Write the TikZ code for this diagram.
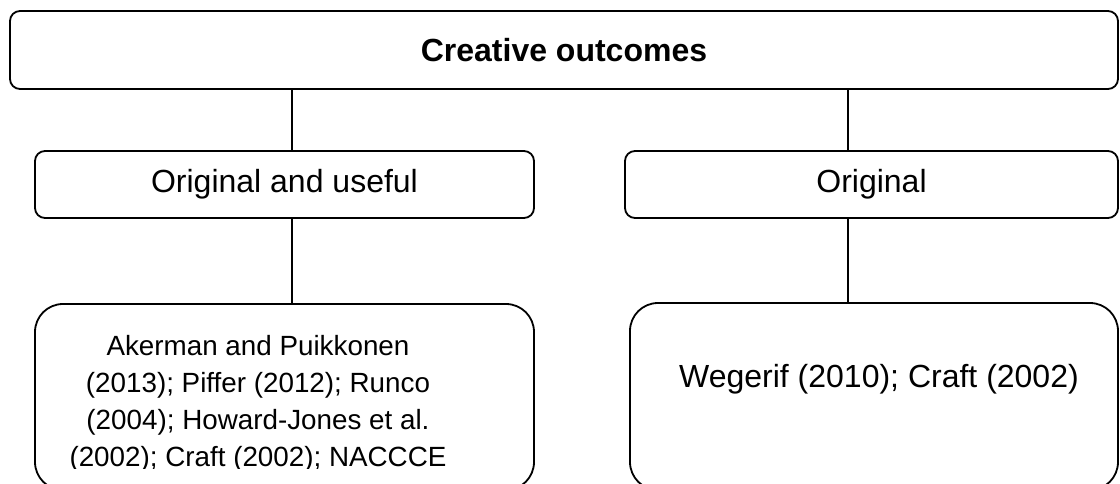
\documentclass[tikz,border=0pt]{standalone}
\usepackage{fontspec}
\setmainfont{Liberation Sans}
\begin{document}
\begin{tikzpicture}[x=1pt,y=-1pt,
  box/.style={draw=black, line width=1.8pt, rounded corners=10pt, fill=white,
    inner sep=0pt, font=\fontsize{32}{38}\selectfont},
  bigbox/.style={box, rounded corners=28pt},
  link/.style={draw=black, line width=1.8pt}]
  \useasboundingbox[fill=white] (0,0) rectangle (1120,484);

  % heading
  \node[box, minimum width=1108pt, minimum height=78pt] (top) at (564,50)
    {\bfseries Creative outcomes};

  % two branches
  \node[box, minimum width=499pt, minimum height=67pt] (midL) at (284.5,184.5)
    {Original and useful};
  \node[box, minimum width=493pt, minimum height=67pt] (midR) at (871.5,184.5)
    {Original};

  % sources for each branch
  \node[bigbox, minimum width=499pt, minimum height=186pt] (botL) at (284.5,397) {};
  \node[bigbox, minimum width=488pt, minimum height=187pt] (botR) at (874,396.5) {};

  % the reference list runs past the bottom of its box and is cut off
  \begin{scope}
    \clip (0,0) rectangle (1120,468.5);
    \node[anchor=base, align=center, inner sep=0pt,
      font=\fontsize{27.8}{37}\selectfont] (srcL) at (258,466)
      {Akerman and Puikkonen\\(2013); Piffer (2012); Runco\\(2004); Howard-Jones et al.\\(2002); Craft (2002); NACCCE};
  \end{scope}
  \node[anchor=base, inner sep=0pt, font=\fontsize{32}{38}\selectfont] (srcR)
    at (879,387) {Wegerif (2010); Craft (2002)};

  % connectors
  \draw[link] ([xshift=7.5pt]midL.north) -- ([xshift=7.5pt]midL.north |- top.south);
  \draw[link] ([xshift=-23.5pt]midR.north) -- ([xshift=-23.5pt]midR.north |- top.south);
  \draw[link] ([xshift=7.5pt]midL.south) -- ([xshift=7.5pt]midL.south |- botL.north);
  \draw[link] ([xshift=-23.5pt]midR.south) -- ([xshift=-23.5pt]midR.south |- botR.north);
\end{tikzpicture}
\end{document}
